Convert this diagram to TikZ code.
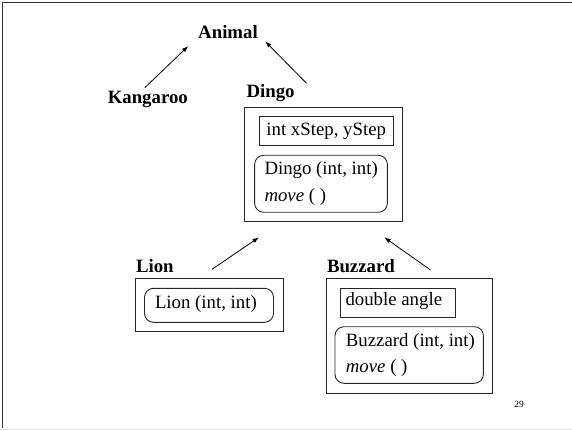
\documentclass[tikz,border=0pt]{standalone}
\usepackage{fontspec}
\setmainfont{Liberation Serif}
\usetikzlibrary{arrows.meta}
\begin{document}
\begin{tikzpicture}[x=1pt,y=-1pt,
  every node/.style={inner sep=0pt, outer sep=0pt},
  classname/.style={font=\fontsize{18.8}{22}\selectfont\bfseries},
  member/.style={font=\fontsize{18.8}{26.7}\selectfont},
  outerbox/.style={draw=black!85, line width=0.9pt},
  fieldbox/.style={draw=black!85, line width=0.9pt},
  methodbox/.style={draw=black!85, line width=0.9pt, rounded corners=9pt},
  inherit/.style={draw=black, line width=0.8pt, -{Latex[length=6.5pt,width=4.5pt]}}
]
\useasboundingbox (0,0) rectangle (572,430);
% slide frame
\draw[line width=1.4pt, black!80] (2.5,428) -- (2.5,2.5) -- (572,2.5);
\draw[line width=1pt, black!12] (0,429) -- (572,429);

% class names
\node[classname] (animal) at (228,32) {Animal};
\node[classname] (kangaroo) at (147.8,99) {Kangaroo};
\node[classname, anchor=west] (dingo) at (246.5,93.3) {Dingo};
\node[classname, anchor=west] (lion) at (136,266) {Lion};
\node[classname, anchor=west] (buzzard) at (327,265.7) {Buzzard};

% Dingo class
\node[outerbox, minimum width=157.6pt, minimum height=114.4pt] (dingobox) at (323.6,164.5) {};
\node[fieldbox, member, minimum width=134.3pt, minimum height=29pt] (dingofield) at (326.2,131.2) {int xStep, yStep};
\node[methodbox, minimum width=132.7pt, minimum height=57pt] (dingomethods) at (321,183.8) {};
\node[member, anchor=west, align=left] (dingotext) at (264.5,183.4) {Dingo (int, int)\\\textit{move} ( )};

% Lion class
\node[outerbox, minimum width=148.1pt, minimum height=52.6pt] (lionbox) at (209.5,305) {};
\node[methodbox, minimum width=129pt, minimum height=34pt] (lionmethods) at (209,305.3) {};
\node[member, anchor=west] (liontext) at (155,304) {Lion (int, int)};

% Buzzard class
\node[outerbox, minimum width=166.3pt, minimum height=114.6pt] (buzzardbox) at (409.4,336) {};
\node[fieldbox, minimum width=115pt, minimum height=28.7pt] (buzzardfield) at (397.5,302.7) {};
\node[member, anchor=west] (buzzardfieldtext) at (345.5,301.5) {double angle};
\node[methodbox, minimum width=148.4pt, minimum height=56.6pt] (buzzardmethods) at (409.2,355) {};
\node[member, anchor=west, align=left] (buzzardtext) at (345.9,355) {Buzzard (int, int)\\\textit{move} ( )};

% arrow end points
\coordinate (kangaroo-up) at (144.8,87.7);
\coordinate (animal-left) at (188.3,46);
\coordinate (dingo-up) at (306.5,83.3);
\coordinate (animal-right) at (265.2,41.3);
\coordinate (lion-up) at (212,269.3);
\coordinate (dingo-lowleft) at (259,237.3);
\coordinate (buzzard-up) at (430.5,270);
\coordinate (dingo-lowright) at (384.2,237.3);

% inheritance arrows
\draw[inherit] (kangaroo-up) -- (animal-left);
\draw[inherit] (dingo-up) -- (animal-right);
\draw[inherit] (lion-up) -- (dingo-lowleft);
\draw[inherit] (buzzard-up) -- (dingo-lowright);

% page number
\node[font=\fontsize{9.5}{11}\selectfont] (pagenum) at (519,404) {29};
\end{tikzpicture}
\end{document}
